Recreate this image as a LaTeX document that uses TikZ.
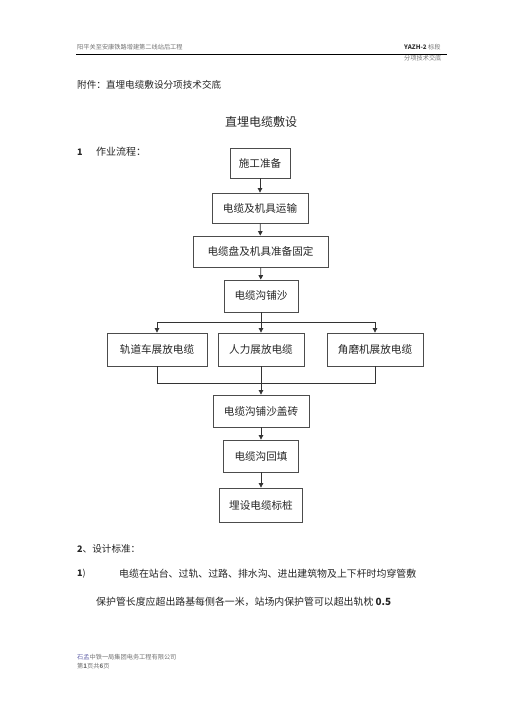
\documentclass[tikz,border=0pt]{standalone}
\usepackage{fontspec}
\setmainfont{Noto Sans CJK SC}
\usetikzlibrary{arrows.meta}
\begin{document}
\begin{tikzpicture}[x=1pt,y=-1pt,
  box/.style={draw=black!70,line width=0.8pt,inner sep=0pt,font=\fontsize{10.6}{12}\selectfont,text=black!85},
  flow/.style={draw=black!80,line width=0.7pt},
  arr/.style={flow,-{Triangle[length=4.5pt,width=4.5pt]}},
  txt/.style={anchor=west,inner sep=0pt,text=black!85},
  hdr/.style={anchor=west,inner sep=0pt,text=black!55,font=\fontsize{6.2}{7}\selectfont},
]
\fill[white] (0,0) rectangle (505,714);
\useasboundingbox (0,0) rectangle (505,714);

% header
\node[hdr] (h1) at (77,47) {阳平关至安康铁路增建第二线站后工程};
\node[hdr] (h2) at (404,47) {\textbf{\textcolor{black!80}{YAZH-2}} 标段};
\node[hdr] (h3) at (404,58) {分项技术交底};
\draw[line width=0.9pt] (76,54) -- (447,54);

% intro
\node[txt,font=\fontsize{9.6}{11}\selectfont] (att) at (77,85) {附件：直埋电缆敷设分项技术交底};
\node[inner sep=0pt,text=black!85,font=\fontsize{12}{14}\selectfont] (title) at (261,122) {直埋电缆敷设};
\node[txt,font=\bfseries\fontsize{9}{11}\selectfont] (n1) at (77,152) {1};
\node[txt,font=\fontsize{10}{12}\selectfont] (s1) at (96,152) {作业流程：};

% flow boxes
\node[box,minimum width=60pt,minimum height=30pt] (b1) at (260,163) {施工准备};
\node[box,minimum width=96pt,minimum height=30pt] (b2) at (260,208) {电缆及机具运输};
\node[box,minimum width=135pt,minimum height=31pt] (b3) at (260.5,251.5) {电缆盘及机具准备固定};
\node[box,minimum width=74pt,minimum height=32pt] (b4) at (261,296) {电缆沟铺沙};
\node[box,minimum width=100pt,minimum height=33pt] (b5a) at (157,349.5) {轨道车展放电缆};
\node[box,minimum width=86pt,minimum height=33pt] (b5b) at (261,349.5) {人力展放电缆};
\node[box,minimum width=96pt,minimum height=33pt] (b5c) at (375,349.5) {角磨机展放电缆};
\node[box,minimum width=96pt,minimum height=32pt] (b6) at (261,411) {电缆沟铺沙盖砖};
\node[box,minimum width=75pt,minimum height=32pt] (b7) at (261,456) {电缆沟回填};
\node[box,minimum width=83pt,minimum height=34pt] (b8) at (261,505) {埋设电缆标桩};

\coordinate (split) at (261,322);
\coordinate (merge) at (261,383);

\draw[arr] (b1) -- (b2);
\draw[arr] (b2) -- (b3);
\draw[arr] (b3) -- (b4);
\draw[flow] (b4) -- (split);
\draw[arr] (split) -| (b5a.north);
\draw[arr] (split) -| (b5c.north);
\draw[arr] (split) -- (b5b.north);
\draw[flow] (b5a.south) |- (merge);
\draw[flow] (b5c.south) |- (merge);
\draw[flow] (b5b.south) -- (merge);
\draw[arr] (merge) -- (b6.north);
\draw[arr] (b6) -- (b7);
\draw[arr] (b7) -- (b8);

% section 2
\node[txt,font=\bfseries\fontsize{9}{11}\selectfont] (n2) at (77,549) {2};
\node[txt,font=\fontsize{9.6}{11}\selectfont] (s2) at (82.5,549) {、设计标准：};
\node[txt,font=\bfseries\fontsize{9}{11}\selectfont] (p1) at (77,574) {1\textnormal{)}};
\node[txt,font=\fontsize{9.9}{12}\selectfont] (l1) at (119,574) {电缆在站台、过轨、过路、排水沟、进出建筑物及上下杆时均穿管敷};
\node[txt,font=\fontsize{9.9}{12}\selectfont] (l2) at (96,602) {保护管长度应超出路基每侧各一米，站场内保护管可以超出轨枕 \textbf{0.5}};

% footer
\node[hdr] (f1) at (77,657) {\textcolor{blue!45!black!60}{石孟}中铁一局集团电务工程有限公司};
\node[hdr] (f2) at (77,666) {第\textbf{1}页共\textbf{6}页};
\end{tikzpicture}
\end{document}
